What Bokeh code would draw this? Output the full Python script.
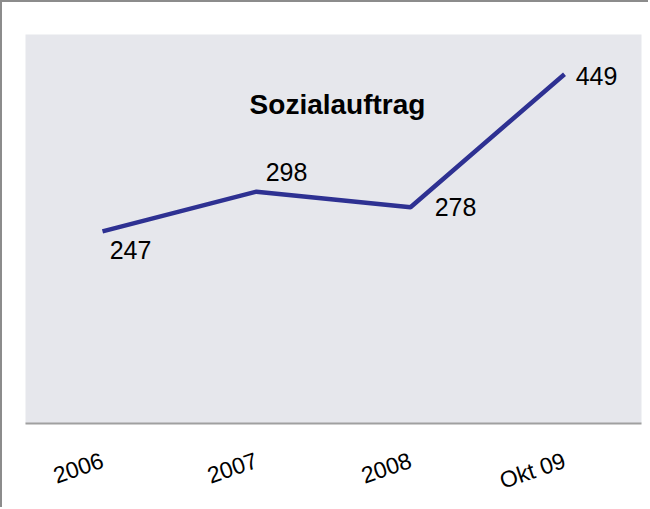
from bokeh.plotting import figure
from bokeh.models import ColumnDataSource, Range1d, Label
from bokeh.core.properties import value
from bokeh.embed import file_html
from bokeh.resources import INLINE

# Data
categories = ["2006", "2007", "2008", "Okt 09"]
values = [247, 298, 278, 449]
value_labels = ["247", "298", "278", "449"]
title_text = "Sozialauftrag"

# label placement (styling)
label_dx = [28, 30, 45, 32]
label_dy = [19, -20, 0, 2]

src = ColumnDataSource(dict(cat=categories, val=values, lab=value_labels,
                            dx=label_dx, dy=label_dy))

p = figure(x_range=categories, y_range=Range1d(0, 500),
           width=648, height=507, output_backend="svg", toolbar_location=None,
           min_border_left=23, min_border_right=9, min_border_top=32, min_border_bottom=81)
p.styles = {"border-left": "2px solid #8c8c8c", "border-top": "2px solid #8c8c8c"}

p.background_fill_color = "#E6E7EC"
p.border_fill_color = "white"
p.outline_line_color = None
p.xgrid.grid_line_color = None
p.ygrid.grid_line_color = None
p.yaxis.visible = False

ax = p.xaxis[0]
ax.axis_line_color = "#A0A0A0"
ax.axis_line_width = 2
ax.major_tick_line_color = None
ax.minor_tick_line_color = None
ax.major_label_orientation = 0.33
ax.major_label_text_font = "Liberation Sans"
ax.major_label_text_font_size = "23px"
ax.major_label_text_color = "black"
ax.major_label_standoff = 30

p.line(x="cat", y="val", source=src, line_color="#2E3192", line_width=4.5)

p.text(x="cat", y="val", text="lab", source=src, x_offset="dx", y_offset="dy",
       text_align="center", text_baseline="middle",
       text_font=value("Liberation Sans"), text_font_size="25px", text_color="black")

title = Label(x=312, y=319, x_units="screen", y_units="screen", text=title_text,
              text_align="center", text_baseline="middle",
              text_font="Liberation Sans", text_font_size="28px",
              text_font_style="bold", text_color="black")
p.add_layout(title)

open("out.html", "w").write(file_html(p, INLINE))
